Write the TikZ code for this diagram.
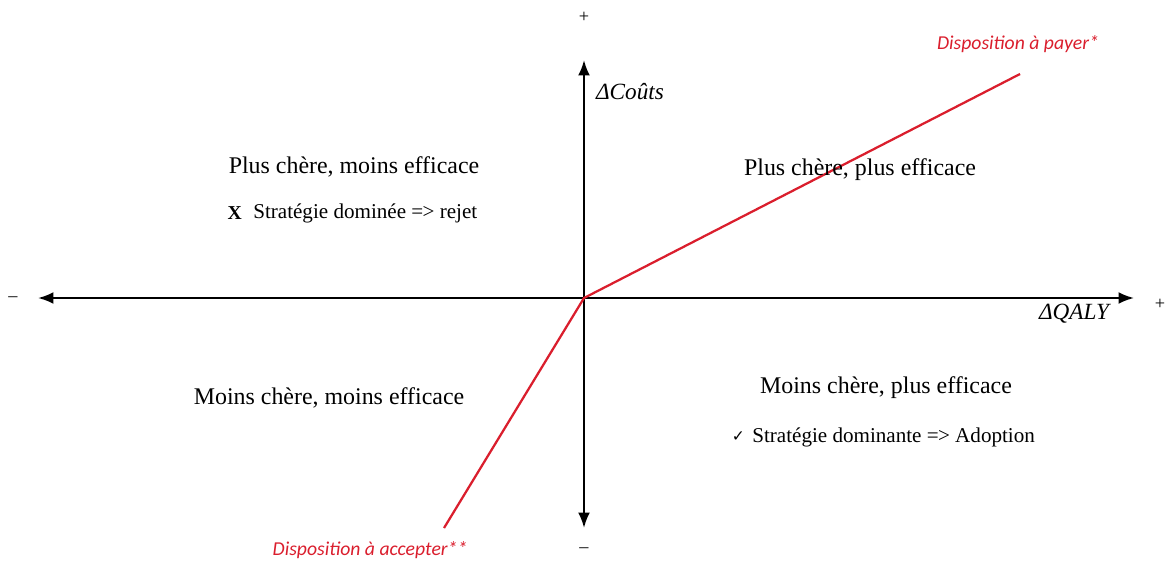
\documentclass[tikz,border=0pt]{standalone}
\usepackage{fontspec}
\setmainfont{Liberation Serif}
\newfontfamily\redfont{Carlito}
\newfontfamily\symfont{DejaVu Sans}
\usepackage{tikz}
\usetikzlibrary{arrows.meta,positioning}
\usepackage{xcolor}
\definecolor{wtpred}{RGB}{218,30,45}

\begin{document}
\begin{tikzpicture}[
  x=0.025cm, y=-0.025cm,
  axis/.style={{Latex[length=11pt,width=8.5pt]}-{Latex[length=11pt,width=8.5pt]}, line width=1.6pt},
  wtp/.style={line width=1.6pt, color=wtpred},
  quad/.style={font=\fontsize{17}{20}\selectfont, inner sep=0pt},
  sub/.style={font=\fontsize{15}{18}\selectfont, inner sep=0pt, anchor=west},
  axl/.style={font=\fontsize{16.5}{19}\selectfont\itshape, inner sep=0pt},
  sgn/.style={font=\fontsize{13}{15}\selectfont, inner sep=0pt},
  redl/.style={font=\fontsize{14}{16}\selectfont\redfont\itshape, color=wtpred, inner sep=0pt},
]
\useasboundingbox (0,0) rectangle (1168,565);

% ─── Axes ───
\coordinate (O)  at (584,298);
\coordinate (xl) at (38,298);
\coordinate (xr) at (1134,298);
\coordinate (yt) at (584,60);
\coordinate (yb) at (584,528);
\draw[axis] (xl) -- (xr);
\draw[axis] (yt) -- (yb);

\node[sgn] (ptop) at (584,17) {+};
\node[sgn] (mbot) at (584,550) {--};
\node[sgn] (mleft) at (13,299) {--};
\node[sgn] (pright) at (1160,304) {+};
\node[axl] (cout) at (630,92) {ΔCoûts};
\node[axl] (qaly) at (1074,314) {ΔQALY};

% ─── Threshold line ───
\coordinate (acc) at (444,528);
\coordinate (pay) at (1020,74);
\draw[wtp] (acc) -- (O) -- (pay);
\node[redl] (lpay) at (1018,44) {Disposition à payer*};
\node[redl] (lacc) at (370,550) {Disposition à accepter**};

% ─── Quadrants ───
\node[quad] (q1) at (354,167) {Plus chère, moins efficace};
\node[sub] (q1s) at (253,213) {Stratégie dominée =\kern-0.5pt> rejet};
\node[font=\fontsize{14}{16}\selectfont\bfseries, inner sep=0pt, left=11 of q1s] (q1x) {X};

\node[quad] (q2) at (860,170) {Plus chère, plus efficace};

\node[quad] (q3) at (329,398) {Moins chère, moins efficace};

\node[quad] (q4) at (886,388) {Moins chère, plus efficace};
\node[sub] (q4s) at (752,437) {Stratégie dominante =\kern-0.5pt> Adoption};
\node[font=\fontsize{11}{13}\selectfont\symfont, inner sep=0pt, left=7 of q4s] (q4c) {✓};

\end{tikzpicture}
\end{document}
